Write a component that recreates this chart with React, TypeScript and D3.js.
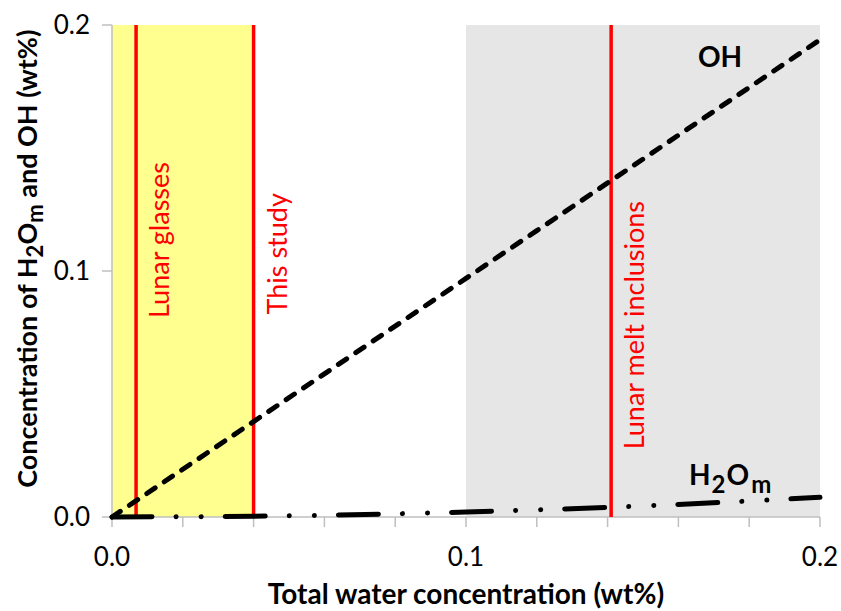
import React from "react";
import * as d3 from "d3";

const totalWater = [0, 0.02, 0.04, 0.06, 0.08, 0.1, 0.12, 0.14, 0.16, 0.18, 0.2];
const ohValues = [0, 0.0194, 0.0388, 0.0582, 0.0776, 0.097, 0.1164, 0.1358, 0.1552, 0.1746, 0.194];
const h2omValues = [0, 0.0001, 0.0003, 0.0007, 0.0013, 0.002, 0.0029, 0.0039, 0.0051, 0.0065, 0.008];
const xTicks = [0, 0.1, 0.2];
const xMinorTicks = [0, 0.02, 0.04, 0.06, 0.08, 0.1, 0.12, 0.14, 0.16, 0.18, 0.2];
const yTicks = [0, 0.1, 0.2];
const regions = [
  { from: 0, to: 0.04, color: "#FFFF8F" },
  { from: 0.1, to: 0.2, color: "#E6E6E6" },
];
const redLines = [
  { x: 0.0068, label: "Lunar glasses", labelY: 0.1126 },
  { x: 0.04, label: "This study", labelY: 0.107 },
  { x: 0.141, label: "Lunar melt inclusions", labelY: 0.078 },
];

const W = 841;
const H = 611;
const m = { left: 112, right: 21, top: 25, bottom: 94 };
const font = "Lato, 'Open Sans', sans-serif";

export default function App() {
  const x = d3.scaleLinear().domain([0, 0.2]).range([m.left, W - m.right]);
  const y = d3.scaleLinear().domain([0, 0.2]).range([H - m.bottom, m.top]);
  const line = d3
    .line<number>()
    .x((_, i) => x(totalWater[i]))
    .y((d) => y(d));
  const y0 = y(0);

  return (
    <svg
      width={W}
      height={H}
      style={{ position: "absolute", left: 0, top: 0, background: "#fff" }}
      fontFamily={font}
    >
      {regions.map((r, i) => (
        <rect
          key={i}
          x={x(r.from)}
          y={y(0.2)}
          width={x(r.to) - x(r.from)}
          height={y(0) - y(0.2)}
          fill={r.color}
        />
      ))}
      {/* axes */}
      <line x1={x(0)} x2={x(0)} y1={y(0.2)} y2={y0} stroke="#BFBFBF" strokeWidth={1.5} />
      <line x1={x(0)} x2={x(0.2)} y1={y0} y2={y0} stroke="#BFBFBF" strokeWidth={1.5} />
      {yTicks.map((t) => (
        <g key={"y" + t}>
          <line x1={x(0) - 10} x2={x(0)} y1={y(t)} y2={y(t)} stroke="#BFBFBF" strokeWidth={1.5} />
          <text x={x(0) - 22} y={y(t)} dy="0.36em" textAnchor="end" fontSize={26} fill="#000">
            {t.toFixed(1)}
          </text>
        </g>
      ))}
      {xMinorTicks.map((t) => (
        <line key={"xm" + t} x1={x(t)} x2={x(t)} y1={y0} y2={y0 + 10} stroke="#BFBFBF" strokeWidth={1.5} />
      ))}
      {xTicks.map((t) => (
        <text key={"x" + t} x={x(t)} y={y0 + 49} textAnchor="middle" fontSize={26} fill="#000">
          {t.toFixed(1)}
        </text>
      ))}
      {/* red lines */}
      {redLines.map((r) => (
        <g key={r.label}>
          <line x1={x(r.x)} x2={x(r.x)} y1={y(0.2)} y2={y0} stroke="#FF0000" strokeWidth={3.5} />
          <text
            transform={`translate(${x(r.x) + 33},${y(r.labelY)}) rotate(-90)`}
            textAnchor="middle"
            fontSize={27}
            fill="#FF0000"
          >
            {r.label}
          </text>
        </g>
      ))}
      {/* series */}
      <path
        d={line(ohValues) || ""}
        fill="none"
        stroke="#000"
        strokeWidth={5}
        strokeDasharray="10 11"
        strokeLinecap="round"
      />
      <path
        d={line(h2omValues) || ""}
        fill="none"
        stroke="#000"
        strokeWidth={5}
        strokeDasharray="40 24 0.1 25 0.1 24"
        strokeLinecap="round"
      />
      {/* labels */}
      <text x={720} y={67} textAnchor="middle" fontSize={28} fontWeight="bold" fill="#000">
        OH
      </text>
      <text x={689} y={485} fontSize={28} fontWeight="bold" fill="#000">
        H<tspan fontSize={24} dy={8} dx={1}>2</tspan>
        <tspan dy={-8} dx={1}>O</tspan>
        <tspan fontSize={24} dy={8} dx={2}>m</tspan>
      </text>
      {/* axis titles */}
      <text x={x(0.1)} y={604} textAnchor="middle" fontSize={28} fontWeight="bold" fill="#000">
        Total water concentration (wt%)
      </text>
      <text
        transform={`translate(37,${y(0.105)}) rotate(-90)`}
        textAnchor="middle"
        fontSize={27}
        fontWeight="bold"
        fill="#000"
      >
        Concentration of H<tspan fontSize={22} dy={6}>2</tspan>
        <tspan dy={-6}>O</tspan>
        <tspan fontSize={22} dy={6}>m</tspan>
        <tspan dy={-6}> and OH (wt%)</tspan>
      </text>
    </svg>
  );
}
